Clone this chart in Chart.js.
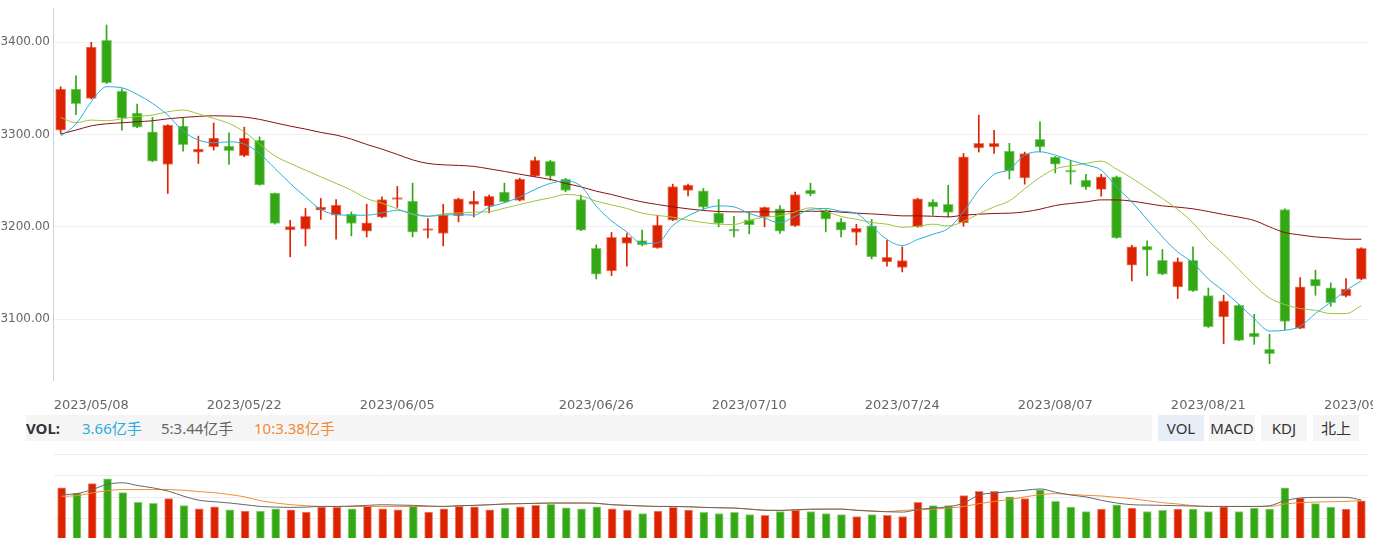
<!DOCTYPE html>
<html>
<head>
<meta charset="utf-8">
<script src="https://cdn.jsdelivr.net/npm/chart.js@4.4.0/dist/chart.umd.min.js"></script>
<style>
  html, body { margin: 0; padding: 0; background: #fff; width: 1373px; height: 538px; overflow: hidden; }
  #main { position: absolute; left: 0; top: 0; width: 1373px; height: 412px; }
  #vol { position: absolute; left: 0; top: 445px; width: 1373px; height: 100px; }
  .bar { position: absolute; left: 26px; top: 415px; width: 1126px; height: 26px; background: #f5f5f5;
         font-family: "Noto Sans", "Noto Sans CJK SC", sans-serif; font-size: 15px; line-height: 26px; white-space: nowrap; }
  .bar span { position: absolute; top: 0; }
  .btn { position: absolute; top: 415px; height: 26px; width: 46px; background: #f5f5f5; color: #333; text-align: center;
         font-family: "Noto Sans", "Noto Sans CJK SC", sans-serif; font-size: 15px; line-height: 26px; }
</style>
</head>
<body>
<div id="main"><canvas id="priceChart"></canvas></div>
<div class="bar">
  <span style="left:0;font-weight:bold;color:#333">VOL:</span>
  <span style="left:56px;color:#2aaed8">3.66亿手</span>
  <span style="left:135px;color:#666">5:3.44亿手</span>
  <span style="left:228px;color:#f08c36">10:3.38亿手</span>
</div>
<div class="btn" style="left:1158px;background:#e7eef8">VOL</div>
<div class="btn" style="left:1209px">MACD</div>
<div class="btn" style="left:1261px">KDJ</div>
<div class="btn" style="left:1313px">北上</div>
<div id="vol"><canvas id="volChart"></canvas></div>
<script>
// Trading days
const dates = [
  '2023/05/04','2023/05/05','2023/05/08','2023/05/09','2023/05/10','2023/05/11','2023/05/12','2023/05/15','2023/05/16','2023/05/17',
  '2023/05/18','2023/05/19','2023/05/22','2023/05/23','2023/05/24','2023/05/25','2023/05/26','2023/05/29','2023/05/30','2023/05/31',
  '2023/06/01','2023/06/02','2023/06/05','2023/06/06','2023/06/07','2023/06/08','2023/06/09','2023/06/12','2023/06/13','2023/06/14',
  '2023/06/15','2023/06/16','2023/06/19','2023/06/20','2023/06/21','2023/06/26','2023/06/27','2023/06/28','2023/06/29','2023/06/30',
  '2023/07/03','2023/07/04','2023/07/05','2023/07/06','2023/07/07','2023/07/10','2023/07/11','2023/07/12','2023/07/13','2023/07/14',
  '2023/07/17','2023/07/18','2023/07/19','2023/07/20','2023/07/21','2023/07/24','2023/07/25','2023/07/26','2023/07/27','2023/07/28',
  '2023/07/31','2023/08/01','2023/08/02','2023/08/03','2023/08/04','2023/08/07','2023/08/08','2023/08/09','2023/08/10','2023/08/11',
  '2023/08/14','2023/08/15','2023/08/16','2023/08/17','2023/08/18','2023/08/21','2023/08/22','2023/08/23','2023/08/24','2023/08/25',
  '2023/08/28','2023/08/29','2023/08/30','2023/08/31','2023/09/01','2023/09/04'
];
const tickDates = ['2023/05/08','2023/05/22','2023/06/05','2023/06/26','2023/07/10','2023/07/24','2023/08/07','2023/08/21','2023/09/04'];
const priceTicks = [3100, 3200, 3300, 3400];

const open = [
  3304.7,3349.1,3339.0,3401.8,3346.9,3323.1,3302.8,3267.5,3309.0,3280.9,
  3286.6,3287.4,3276.9,3293.5,3236.5,3196.7,3197.5,3218.0,3212.6,3213.7,
  3195.3,3210.5,3229.6,3227.8,3196.1,3192.8,3211.9,3224.2,3222.4,3237.5,
  3228.5,3254.9,3270.8,3251.6,3229.6,3176.9,3152.3,3182.0,3185.2,3177.2,
  3207.2,3239.4,3239.0,3214.8,3197.5,3207.6,3210.8,3219.5,3201.0,3239.7,
  3218.0,3205.4,3193.9,3201.0,3162.0,3156.0,3200.0,3227.0,3224.5,3204.3,
  3285.5,3286.6,3282.0,3253.0,3294.6,3275.4,3260.6,3250.5,3240.5,3254.1,
  3158.5,3179.0,3163.9,3135.0,3163.9,3125.6,3102.5,3115.1,3085.1,3067.5,
  3218.8,3090.2,3143.3,3133.9,3125.2,3143.3
];
const close = [
  3349.1,3333.2,3394.6,3355.9,3317.7,3307.9,3271.1,3310.1,3288.8,3284.1,
  3296.0,3282.3,3296.0,3245.4,3203.6,3200.4,3211.5,3221.3,3223.5,3203.6,
  3204.3,3229.6,3231.8,3194.2,3197.1,3212.9,3230.3,3227.8,3232.9,3227.0,
  3251.6,3271.9,3254.9,3239.4,3196.4,3148.7,3188.8,3188.8,3180.5,3201.8,
  3243.7,3245.1,3221.3,3203.6,3195.3,3202.1,3221.0,3195.3,3235.0,3235.7,
  3208.3,3196.4,3198.5,3167.5,3167.1,3163.6,3230.3,3221.6,3215.6,3275.8,
  3290.3,3290.3,3260.6,3279.4,3286.6,3267.9,3259.2,3243.0,3254.1,3188.0,
  3178.3,3174.7,3148.7,3162.5,3130.6,3091.6,3119.8,3077.2,3080.8,3062.8,
  3097.8,3135.0,3135.7,3118.1,3132.8,3176.9
];
const high = [
  3351.6,3363.5,3399.7,3418.4,3349.4,3332.8,3318.4,3310.5,3317.7,3298.2,
  3312.3,3301.8,3307.9,3297.4,3236.5,3207.2,3219.9,3230.7,3229.6,3216.2,
  3224.5,3232.4,3243.7,3247.3,3209.0,3224.5,3231.0,3238.6,3234.3,3247.3,
  3252.7,3275.4,3272.0,3252.4,3234.3,3180.5,3193.9,3192.8,3196.4,3212.6,
  3246.2,3246.2,3241.5,3229.6,3211.5,3215.6,3221.5,3223.1,3237.5,3247.3,
  3218.5,3209.0,3202.9,3208.0,3185.5,3178.3,3231.0,3229.6,3245.1,3279.4,
  3320.9,3304.4,3290.3,3280.9,3313.7,3276.0,3272.2,3256.7,3257.0,3255.0,
  3180.1,3184.8,3175.5,3166.4,3178.3,3133.9,3126.0,3116.0,3105.4,3083.7,
  3219.5,3145.2,3153.1,3139.3,3144.1,3177.5
];
const low = [
  3301.1,3321.3,3338.3,3355.0,3304.7,3307.2,3270.5,3236.1,3281.9,3268.6,
  3283.0,3267.5,3275.8,3245.0,3203.0,3167.5,3179.4,3208.0,3186.6,3190.2,
  3189.1,3210.0,3221.0,3189.1,3188.0,3179.4,3205.4,3210.8,3215.1,3226.5,
  3228.0,3254.5,3250.5,3237.9,3196.0,3143.6,3147.3,3157.4,3179.4,3176.8,
  3206.8,3233.5,3219.0,3200.0,3189.1,3192.4,3200.0,3192.8,3200.6,3233.5,
  3194.5,3189.1,3180.5,3165.3,3157.4,3151.2,3199.6,3212.6,3210.8,3200.7,
  3280.9,3279.4,3251.9,3246.2,3281.2,3258.4,3246.2,3240.5,3233.2,3187.5,
  3141.5,3147.3,3148.2,3122.4,3130.2,3091.2,3073.7,3076.8,3072.9,3052.0,
  3088.8,3089.8,3126.0,3114.1,3124.1,3142.8
];
const ma5 = [
  3298.2,3311.2,3335.3,3351.6,3350.5,3343.4,3333.6,3320.9,3303.6,3293.9,
  3291.0,3292.0,3289.5,3279.4,3263.2,3247.0,3232.4,3218.8,3213.4,3212.6,
  3212.6,3215.1,3218.0,3214.5,3211.5,3212.6,3213.4,3212.6,3221.3,3226.0,
  3232.4,3240.5,3247.0,3249.8,3244.0,3222.4,3206.5,3194.5,3182.0,3182.6,
  3201.5,3211.9,3219.1,3222.7,3221.6,3214.5,3209.4,3204.3,3211.5,3218.8,
  3219.9,3216.9,3214.5,3200.7,3186.3,3179.8,3186.3,3192.0,3198.2,3216.2,
  3239.7,3256.7,3262.1,3277.6,3281.2,3277.6,3271.9,3267.1,3261.4,3243.3,
  3227.0,3208.0,3189.1,3172.9,3161.0,3143.6,3130.6,3116.2,3100.7,3087.3,
  3088.1,3092.4,3106.2,3118.4,3131.4,3141.5
];
const ma10 = [
  3318.4,3312.6,3315.5,3314.8,3316.9,3319.5,3320.9,3324.5,3326.4,3322.3,
  3317.4,3311.9,3302.8,3289.5,3276.9,3268.6,3261.4,3254.1,3247.0,3239.7,
  3230.7,3225.6,3219.5,3213.4,3211.5,3214.0,3215.1,3215.9,3216.4,3220.2,
  3224.2,3228.1,3231.4,3235.0,3233.5,3227.8,3223.8,3219.9,3214.8,3212.3,
  3210.5,3207.2,3204.7,3202.9,3202.5,3207.2,3210.5,3211.9,3216.2,3220.6,
  3216.9,3211.2,3208.3,3204.7,3202.9,3199.6,3200.7,3202.9,3201.0,3205.8,
  3214.0,3221.6,3228.1,3241.1,3253.5,3262.8,3266.0,3268.6,3271.1,3262.5,
  3252.7,3241.9,3230.7,3218.8,3204.3,3185.5,3170.4,3153.8,3137.1,3123.1,
  3115.9,3111.6,3109.7,3106.2,3106.2,3114.8
];
const ma30 = [
  3300.4,3304.7,3309.3,3311.5,3312.6,3313.7,3314.8,3316.9,3318.4,3319.5,
  3320.2,3319.9,3318.8,3316.3,3312.6,3309.0,3305.8,3302.2,3299.3,3294.9,
  3289.2,3284.1,3278.4,3272.5,3268.6,3267.1,3266.5,3265.4,3262.8,3260.0,
  3257.0,3254.1,3251.3,3247.0,3243.3,3238.6,3235.0,3230.7,3227.0,3224.2,
  3221.6,3219.5,3217.7,3216.6,3216.2,3216.2,3216.2,3216.2,3216.6,3216.9,
  3216.9,3215.9,3214.8,3214.0,3213.0,3211.9,3211.9,3211.5,3210.8,3212.6,
  3213.7,3214.5,3214.8,3216.2,3219.1,3223.1,3225.3,3227.0,3229.2,3229.2,
  3227.8,3225.3,3222.7,3221.3,3219.5,3216.6,3213.4,3210.5,3206.9,3200.0,
  3193.9,3191.3,3189.1,3188.0,3186.6,3186.6
];
// volume in 亿手
const vol = [
  4.88,4.40,5.28,5.72,4.43,3.52,3.43,3.87,3.21,2.92,
  3.11,2.83,2.70,2.70,2.92,2.83,2.61,3.08,3.05,2.92,
  3.14,2.92,2.83,3.18,2.61,2.92,3.14,3.11,2.83,2.99,
  3.11,3.24,3.33,3.02,2.92,3.11,2.92,2.80,2.48,2.70,
  3.05,2.80,2.58,2.48,2.58,2.39,2.30,2.67,2.80,2.67,
  2.48,2.39,2.20,2.39,2.30,2.20,3.52,3.21,3.21,4.15,
  4.56,4.56,4.03,3.87,4.69,3.61,3.08,2.67,2.89,3.30,
  2.99,2.67,2.77,2.89,2.89,2.67,3.11,2.67,2.99,2.89,
  4.88,3.93,3.40,3.08,2.89,3.66
];
const volMa5 = [
  4.25,4.34,4.72,5.22,5.35,5.09,4.87,4.56,4.09,3.71,
  3.58,3.46,3.30,3.14,3.08,3.05,3.08,3.14,3.14,3.18,
  3.24,3.30,3.27,3.24,3.18,3.14,3.21,3.24,3.30,3.37,
  3.40,3.43,3.46,3.46,3.46,3.43,3.30,3.24,3.18,3.14,
  3.14,3.11,3.05,3.02,2.99,2.89,2.77,2.77,2.83,2.89,
  2.89,2.89,2.77,2.70,2.64,2.61,2.86,2.99,3.11,3.46,
  4.21,4.40,4.53,4.65,4.78,4.47,4.21,4.03,3.71,3.46,
  3.30,3.27,3.24,3.21,3.18,3.14,3.14,3.14,3.14,3.21,
  3.68,3.93,3.99,3.99,3.99,3.74
];
const volMa10 = [
  4.09,4.15,4.40,4.62,4.72,4.72,4.72,4.72,4.65,4.53,
  4.43,4.25,4.03,3.68,3.46,3.30,3.21,3.14,3.14,3.14,
  3.14,3.14,3.14,3.14,3.14,3.14,3.21,3.24,3.30,3.37,
  3.40,3.43,3.46,3.46,3.46,3.43,3.30,3.24,3.18,3.14,
  3.14,3.11,3.05,3.02,2.99,2.89,2.80,2.77,2.80,2.86,
  2.89,2.89,2.80,2.72,2.66,2.77,2.83,2.89,2.99,3.14,
  3.40,3.61,3.80,4.03,4.25,4.34,4.25,4.18,4.12,3.99,
  3.87,3.68,3.49,3.37,3.21,3.14,3.14,3.14,3.14,3.14,
  3.37,3.49,3.55,3.58,3.61,3.68
];

const RED = '#dd2200', GREEN = '#33a814';
const up = close.map((c, i) => c >= open[i]);
const candleColor = up.map(u => u ? RED : GREEN);
const candleEdge = up.map(u => u ? 'rgba(221,34,0,0.55)' : 'rgba(51,168,20,0.55)');

const fontMain = '"DejaVu Sans", sans-serif';

function maLine(label, data, color) {
  return {
    type: 'line', label: label, data: data, borderColor: color, borderWidth: 1,
    pointRadius: 0, cubicInterpolationMode: 'monotone', order: 1
  };
}

new Chart(document.getElementById('priceChart'), {
  type: 'bar',
  data: {
    labels: dates,
    datasets: [
      {
        label: 'wick', data: low.map((l, i) => [l, high[i]]),
        backgroundColor: candleColor, barThickness: 1, grouped: false, order: 3
      },
      {
        label: 'body', data: open.map((o, i) => [o, close[i]]),
        backgroundColor: candleColor, borderColor: candleEdge, borderWidth: 1, borderSkipped: false,
        barThickness: 10, minBarLength: 2, grouped: false, order: 2
      },
      maLine('MA5', ma5, '#2aaed8'),
      maLine('MA10', ma10, '#9ec43a'),
      maLine('MA30', ma30, '#8b1010')
    ]
  },
  options: {
    responsive: true, maintainAspectRatio: false, animation: false,
    layout: { padding: { top: 8, right: 4, left: 0, bottom: 0 } },
    plugins: { legend: { display: false }, tooltip: { enabled: false } },
    scales: {
      x: {
        offset: true,
        grid: { display: false },
        border: { display: false },
        ticks: {
          autoSkip: false, maxRotation: 0, padding: 10, color: '#666',
          font: { family: fontMain, size: 13 },
          callback: (v, i) => tickDates.includes(dates[i]) ? dates[i] : ''
        },
        afterFit: s => { s.height = 32; s.paddingLeft = 0; s.paddingRight = 0; }
      },
      y: {
        min: 3034.3, max: 3436.8,
        grid: { color: '#eef0f3', drawTicks: false },
        border: { display: true, color: '#c8d2e6' },
        ticks: {
          padding: 3, color: '#666', includeBounds: false,
          font: { family: fontMain, size: 12 },
          callback: v => priceTicks.includes(v) ? v.toFixed(2) : ''
        },
        afterBuildTicks: s => { s.ticks = priceTicks.map(v => ({ value: v })); },
        afterFit: s => { s.width = 53; s.paddingTop = 0; s.paddingBottom = 0; }
      }
    }
  }
});

new Chart(document.getElementById('volChart'), {
  type: 'bar',
  data: {
    labels: dates,
    datasets: [
      {
        label: 'VOL', data: vol, backgroundColor: candleColor, borderColor: candleEdge,
        borderWidth: 1, borderSkipped: false, barThickness: 8, order: 2
      },
      { type: 'line', label: 'MA5', data: volMa5, borderColor: '#666', borderWidth: 1, pointRadius: 0, cubicInterpolationMode: 'monotone', order: 1 },
      { type: 'line', label: 'MA10', data: volMa10, borderColor: '#f08c36', borderWidth: 1, pointRadius: 0, cubicInterpolationMode: 'monotone', order: 1 }
    ]
  },
  options: {
    responsive: true, maintainAspectRatio: false, animation: false,
    layout: { padding: { top: 9.5, right: 4, left: 0, bottom: 5 } },
    plugins: { legend: { display: false }, tooltip: { enabled: false } },
    scales: {
      x: { display: false, offset: true },
      y: {
        min: 0, max: 8,
        grid: { color: '#eaeef3', drawTicks: false },
        border: { display: false },
        ticks: { display: false, stepSize: 2 },
        afterFit: s => { s.width = 54; s.paddingTop = 0; s.paddingBottom = 0; }
      }
    }
  }
});
</script>
</body>
</html>
